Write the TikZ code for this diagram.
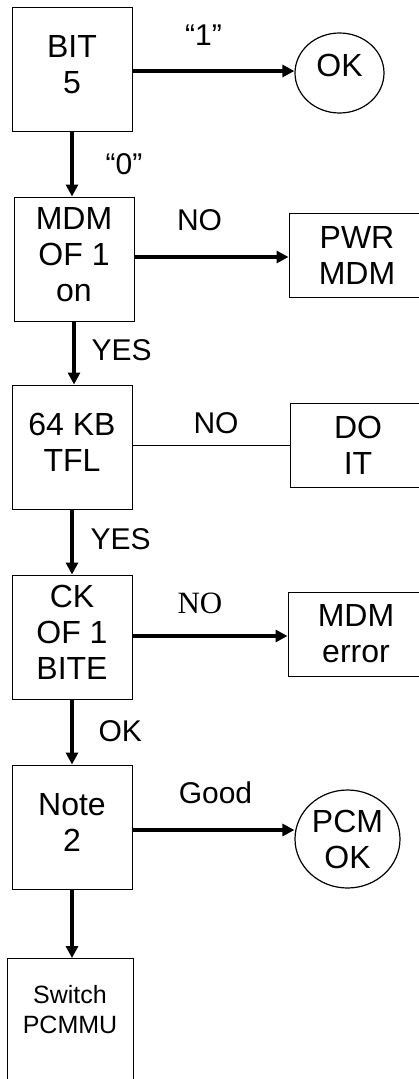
\documentclass[tikz,border=0pt]{standalone}
\usepackage{fontspec}
\setmainfont{Liberation Sans}
\newfontfamily\timesfont{Liberation Serif}
\usetikzlibrary{arrows.meta,shapes.geometric}
\newcommand\lowstrut{\rule[-9pt]{0pt}{9pt}}

\begin{document}
\begin{tikzpicture}[x=1pt, y=1pt,
    box/.style={draw, line width=1pt, minimum width=120pt, minimum height=124pt,
        align=center, font=\fontsize{32}{36}\selectfont},
    sidebox/.style={draw, line width=1pt, minimum width=136pt, minimum height=84pt,
        align=center, font=\fontsize{32}{36}\selectfont},
    oval/.style={draw, ellipse, line width=1.2pt, inner sep=0pt, align=center,
        font=\fontsize{32}{36}\selectfont},
    arr/.style={-{Triangle[length=12pt, width=12pt]}, line width=3.2pt},
    lbl/.style={inner sep=0pt, font=\fontsize{30}{34}\selectfont}]

    \useasboundingbox (0,0) rectangle (419,-1079);

    % main column
    \node[box] (bit) at (72,-69) {BIT\\5\lowstrut};
    \node[box] (mdm) at (74,-259) {MDM\\OF 1\\on\lowstrut};
    \node[box] (tfl) at (72,-447) {64 KB\\TFL\lowstrut};
    \node[box] (ck) at (72,-637) {CK\\OF 1\\BITE\lowstrut};
    \node[box] (note) at (72,-827) {Note\\2\lowstrut};
    \node[box, minimum width=126pt, minimum height=140pt, anchor=north,
        label={[inner sep=0pt, anchor=north, yshift=-27pt, align=center,
            font=\fontsize{25}{30}\selectfont]north:Switch\\PCMMU}] (switch) at (70,-958) {};

    % right column
    \node[oval, minimum width=89pt, minimum height=80pt, text depth=15pt] (ok) at (339.5,-73) {OK};
    \node[sidebox] (pwr) at (357,-255) {PWR\\MDM};
    \node[sidebox] (doit) at (358,-445) {DO\\IT};
    \node[sidebox] (err) at (356,-634) {MDM\\error};
    \node[oval, minimum width=105pt, minimum height=98pt] (pcm) at (347.5,-839) {PCM\\OK};

    % sideways
    \draw[arr] (bit.east |- 0,-71) -- (ok.west |- 0,-71)
        node[lbl, midway, anchor=base, xshift=-10pt, yshift=26pt] {“1”};
    \draw[arr] (mdm.east |- 0,-257) -- (pwr.west |- 0,-257)
        node[lbl, midway, anchor=base, xshift=-12pt, yshift=27pt] {NO};
    \draw[line width=1pt] (tfl.east |- 0,-445) -- (doit.west |- 0,-445)
        node[lbl, midway, anchor=base, xshift=5pt, yshift=12pt] {NO};
    \draw[arr] (ck.east |- 0,-636) -- (err.west |- 0,-636)
        node[lbl, midway, anchor=base, xshift=-10pt, yshift=23pt, font=\timesfont\fontsize{31}{34}\selectfont] {NO};
    \draw[arr] (note.east |- 0,-830) -- (pcm.west |- 0,-830)
        node[lbl, midway, anchor=base, xshift=2pt, yshift=27pt] {Good};

    % downwards
    \draw[arr] (bit.south) -- (bit.south |- mdm.north)
        node[lbl, midway, anchor=base west, xshift=32pt, yshift=-10pt] {“0”};
    \draw[arr] (mdm.south) -- (mdm.south |- tfl.north)
        node[lbl, midway, anchor=base west, xshift=16pt, yshift=-7pt] {YES};
    \draw[arr] (tfl.south) -- (tfl.south |- ck.north)
        node[lbl, midway, anchor=base west, xshift=17pt, yshift=-7pt] {YES};
    \draw[arr] (ck.south) -- (ck.south |- note.north)
        node[lbl, midway, anchor=base west, xshift=25pt, yshift=-9pt] {OK};
    \draw[arr] (note.south) -- (note.south |- switch.north);
\end{tikzpicture}
\end{document}
